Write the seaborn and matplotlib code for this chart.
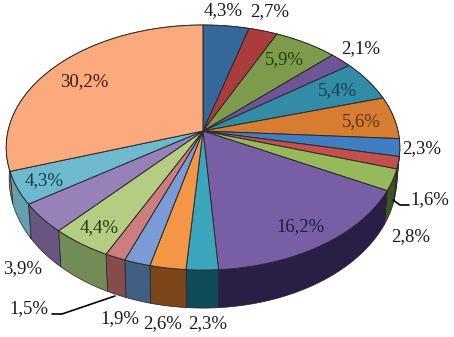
import numpy as np
import matplotlib
matplotlib.use('Agg')
import matplotlib.pyplot as plt
import seaborn as sns

# slice values, clockwise from twelve o'clock
values = [4.3, 2.7, 5.9, 2.1, 5.4, 5.6, 2.3, 1.6, 2.8, 16.2, 2.3, 2.6, 1.9, 1.5, 4.4, 3.9, 4.3, 30.2]
top_colors = ['#36679b', '#aa3c3c', '#7d9b4b', '#6e5596', '#328ca5', '#d77d32',
              '#417dc3', '#c3504b', '#96b95a', '#785fa5', '#3ca5be', '#f59646',
              '#7b9bd7', '#cd7d7d', '#b4cd82', '#9682b9', '#6eb9cd', '#fbaa7d']
side_colors = ['#24456a', '#742828', '#556a32', '#4a3966', '#215f70', '#925522',
               '#2b5584', '#843633', '#3c551e', '#281e46', '#0f4b5a', '#7d4619',
               '#415f82', '#874b4b', '#738c55', '#695582', '#64a0af', '#aa7355']
top_palette = sns.color_palette(top_colors)
side_palette = sns.color_palette(side_colors)

# label text, position (pixels) and colour
labels = ['4,3%', '2,7%', '5,9%', '2,1%', '5,4%', '5,6%', '2,3%', '1,6%', '2,8%',
          '16,2%', '2,3%', '2,6%', '1,9%', '1,5%', '4,4%', '3,9%', '4,3%', '30,2%']
label_x = [223, 270, 284, 361, 337, 361, 422, 430, 411, 301, 208, 163, 120, 29, 99, 23, 44, 84]
label_y = [11, 12, 60, 49, 91, 122, 149, 200, 237, 227, 324, 324, 319, 309, 228, 269, 181, 82]
label_colors = ['#1a1a1a', '#1a1a1a', '#23400f', '#1a1a1a', '#123c55', '#5a3010', '#1a1a1a',
                '#1a1a1a', '#1a1a1a', '#241a45', '#1a1a1a', '#1a1a1a', '#1a1a1a', '#1a1a1a',
                '#20380f', '#1a1a1a', '#123c50', '#3a1a10']

# perspective of the disc, in pixels
CX, CY = 203, 131
RX, RY, K = 195, 120.3, 0.135


def project(t):
    """Angle clockwise from top to screen position on the top rim"""
    w = 1 + K * np.cos(t)
    return CX + RX * np.sin(t) / w, CY - RY * np.cos(t) / w


def project_bottom(t):
    """Same angle on the lower rim of the disc"""
    x, y = project(t)
    return CX + (x - CX) * 0.985, y + 30 - 8 * np.minimum(np.cos(t), 0)


sns.set_theme(style='white')
plt.rcParams['font.family'] = ['Liberation Serif', 'DejaVu Serif']

fig = plt.figure(figsize=(4.54, 3.37), dpi=100)
ax = fig.add_axes([0, 0, 1, 1])
ax.set_xlim(0, 454)
ax.set_ylim(337, 0)
ax.axis('off')

edges = np.cumsum([0] + values) / sum(values) * 2 * np.pi

# side wall first, the top covers the back part of it
for i in range(len(values)):
    t = np.linspace(edges[i], edges[i + 1], 60)
    x1, y1 = project(t)
    x2, y2 = project_bottom(t)
    ax.fill(np.r_[x1, x2[::-1]], np.r_[y1, y2[::-1]], facecolor=side_palette[i],
            edgecolor='#222222', linewidth=0.5, zorder=1)

for i in range(len(values)):
    t = np.linspace(edges[i], edges[i + 1], 60)
    x, y = project(t)
    ax.fill(np.r_[CX, x], np.r_[CY, y], facecolor=top_palette[i],
            edgecolor='#2a2a2a', linewidth=0.7, zorder=2)

# leader lines for the two small slices
ax.plot([52, 62, 115], [314, 314, 296], color='black', lw=1.2, zorder=3)
ax.plot([409, 400, 393], [205, 205, 200], color='black', lw=1.2, zorder=3)

for txt, x, y, c in zip(labels, label_x, label_y, label_colors):
    ax.text(x, y, txt, ha='center', va='center', fontsize=13.5, color=c, zorder=4)

fig.savefig('out.png', dpi=100)
